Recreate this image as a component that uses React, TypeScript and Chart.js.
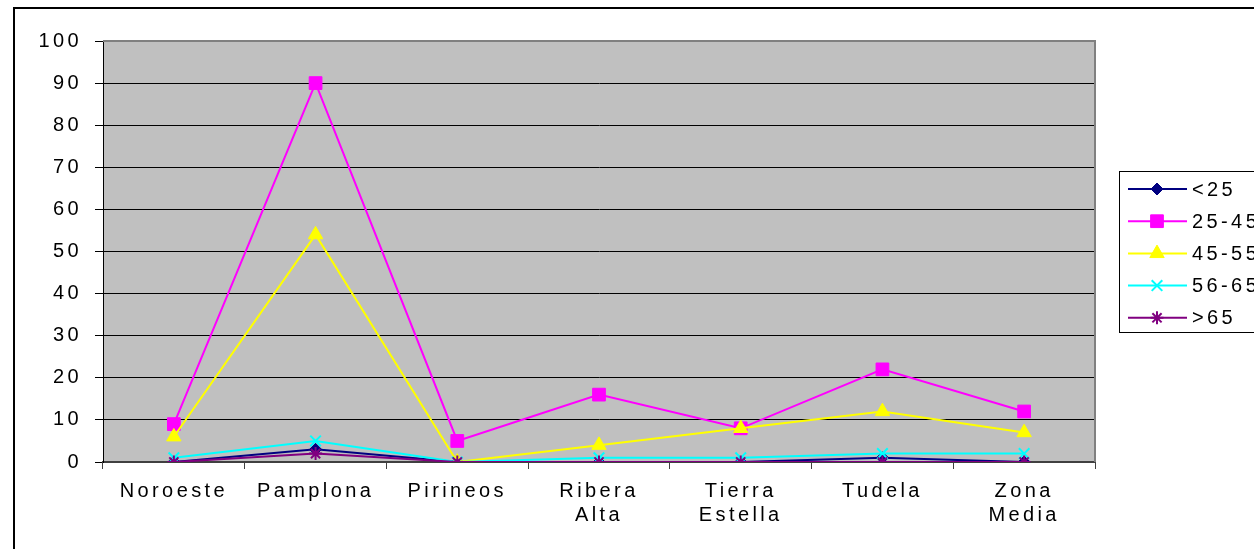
import React, { useEffect, useRef } from 'react';
import { Chart, registerables } from 'chart.js';
import { drawPoint } from 'chart.js/helpers';

Chart.register(...registerables);

const categories: string[][] = [
  ['Noroeste'],
  ['Pamplona'],
  ['Pirineos'],
  ['Ribera', 'Alta'],
  ['Tierra', 'Estella'],
  ['Tudela'],
  ['Zona', 'Media'],
];

const seriesNames = ['<25', '25-45', '45-55', '56-65', '>65'];

const under25 = [0, 3, 0, 0, 0, 1, 0];
const from25to45 = [9, 90, 5, 16, 8, 22, 12];
const from45to55 = [6, 54, 0, 4, 8, 12, 7];
const from56to65 = [1, 5, 0, 1, 1, 2, 2];
const over65 = [0, 2, 0, 0, 0, 0, 0];

const yMin = 0;
const yMax = 100;
const yStep = 10;

const seriesColors = ['#000080', '#FF00FF', '#FFFF00', '#00FFFF', '#800080'];
const seriesStyles = ['rectRot', 'rect', 'triangle', 'crossRot', 'star'];
const seriesRadius = [6, 9, 8.3, 7.5, 6.5];

const FONT_FAMILY = "'Liberation Sans', Arial, sans-serif";
const FONT_SIZE = 20;
const SPACING = '3.4px';

export default function App() {
  const canvasRef = useRef<HTMLCanvasElement | null>(null);

  useEffect(() => {
    const canvas = canvasRef.current;
    if (!canvas) return;
    const values = [under25, from25to45, from45to55, from56to65, over65];

    const spacingPlugin = {
      id: 'spacing',
      beforeDraw(chart: any) {
        chart.ctx.letterSpacing = SPACING;
      },
    };

    const plotBgPlugin = {
      id: 'plotBg',
      beforeDraw(chart: any) {
        const { ctx, chartArea } = chart;
        ctx.save();
        ctx.fillStyle = '#C0C0C0';
        ctx.fillRect(chartArea.left, chartArea.top, chartArea.right - chartArea.left, chartArea.bottom - chartArea.top);
        ctx.restore();
      },
      beforeDatasetsDraw(chart: any) {
        const { ctx, chartArea } = chart;
        ctx.save();
        ctx.strokeStyle = '#808080';
        ctx.lineWidth = 2;
        ctx.beginPath();
        ctx.moveTo(chartArea.left, chartArea.top);
        ctx.lineTo(chartArea.right, chartArea.top);
        ctx.lineTo(chartArea.right, chartArea.bottom);
        ctx.stroke();
        ctx.restore();
      },
    };

    const legendPlugin = {
      id: 'boxLegend',
      afterDraw(chart: any) {
        const { ctx } = chart;
        const boxLeft = 1104.5;
        const boxTop = 162.5;
        const boxBottom = 323.5;
        const rowTop = 180;
        const rowGap = 32.2;
        ctx.save();
        ctx.strokeStyle = '#000';
        ctx.lineWidth = 1;
        ctx.strokeRect(boxLeft, boxTop, 300, boxBottom - boxTop);
        chart.data.datasets.forEach((ds: any, i: number) => {
          const y = rowTop + i * rowGap;
          ctx.strokeStyle = ds.borderColor;
          ctx.lineWidth = 2;
          ctx.beginPath();
          ctx.moveTo(1113, y);
          ctx.lineTo(1172, y);
          ctx.stroke();
          ctx.fillStyle = ds.pointBackgroundColor;
          ctx.strokeStyle = ds.pointBorderColor;
          ctx.lineWidth = ds.pointBorderWidth;
          drawPoint(ctx, { pointStyle: ds.pointStyle, radius: ds.pointRadius, borderWidth: ds.pointBorderWidth, rotation: 0 } as any, 1142, y);
          ctx.fillStyle = '#000';
          ctx.font = `${FONT_SIZE}px ${FONT_FAMILY}`;
          (ctx as any).letterSpacing = SPACING;
          ctx.textAlign = 'left';
          ctx.textBaseline = 'middle';
          ctx.fillText(ds.label, 1177, y + 1);
        });
        ctx.restore();
      },
    };

    const chart = new Chart(canvas, {
      type: 'line',
      data: {
        labels: categories as any,
        datasets: seriesNames.map((name, i) => ({
          label: name,
          data: values[i],
          borderColor: seriesColors[i],
          backgroundColor: seriesColors[i],
          pointBackgroundColor: seriesColors[i],
          pointBorderColor: seriesColors[i],
          pointBorderWidth: i >= 3 ? 2 : 1,
          borderWidth: 2,
          pointStyle: seriesStyles[i] as any,
          pointRadius: seriesRadius[i],
          tension: 0,
          fill: false,
          order: seriesNames.length - i,
        })),
      },
      options: {
        animation: false,
        responsive: false,
        maintainAspectRatio: false,
        devicePixelRatio: 1,
        layout: { padding: { left: 0, top: 32, right: 159, bottom: 0 } },
        plugins: {
          legend: { display: false },
          tooltip: { enabled: false },
        },
        scales: {
          x: {
            type: 'category',
            offset: true,
            grid: {
              offset: true,
              drawOnChartArea: false,
              drawTicks: true,
              tickLength: 7,
              tickColor: '#404040',
              lineWidth: 1,
            },
            border: { display: true, color: '#404040', width: 2 },
            ticks: {
              autoSkip: false,
              maxRotation: 0,
              minRotation: 0,
              padding: 10,
              color: '#000',
              font: { family: FONT_FAMILY, size: FONT_SIZE, lineHeight: 24 / FONT_SIZE },
            },
            afterFit(scale: any) {
              scale.height = 87;
            },
          },
          y: {
            min: yMin,
            max: yMax,
            grid: {
              color: '#000',
              lineWidth: 1,
              drawTicks: true,
              tickLength: 8,
              tickColor: '#000',
            },
            border: { display: true, color: '#000', width: 1 },
            ticks: {
              stepSize: yStep,
              padding: 13,
              color: '#000',
              font: { family: FONT_FAMILY, size: FONT_SIZE },
            },
            afterFit(scale: any) {
              scale.width = 88;
            },
          },
        },
      },
      plugins: [spacingPlugin, plotBgPlugin, legendPlugin],
    });

    return () => {
      chart.destroy();
    };
  }, []);

  return (
    <div
      style={{
        position: 'fixed',
        left: 0,
        top: 0,
        width: 1254,
        height: 549,
        overflow: 'hidden',
        background: '#fff',
      }}
    >
      <div
        style={{
          position: 'absolute',
          left: 13,
          top: 7,
          width: 1320,
          height: 620,
          border: '2px solid #000',
          boxSizing: 'border-box',
        }}
      >
        <canvas
          ref={canvasRef}
          width={1239}
          height={540}
          style={{ position: 'absolute', left: 0, top: 0, width: 1239, height: 540 }}
        />
      </div>
    </div>
  );
}
